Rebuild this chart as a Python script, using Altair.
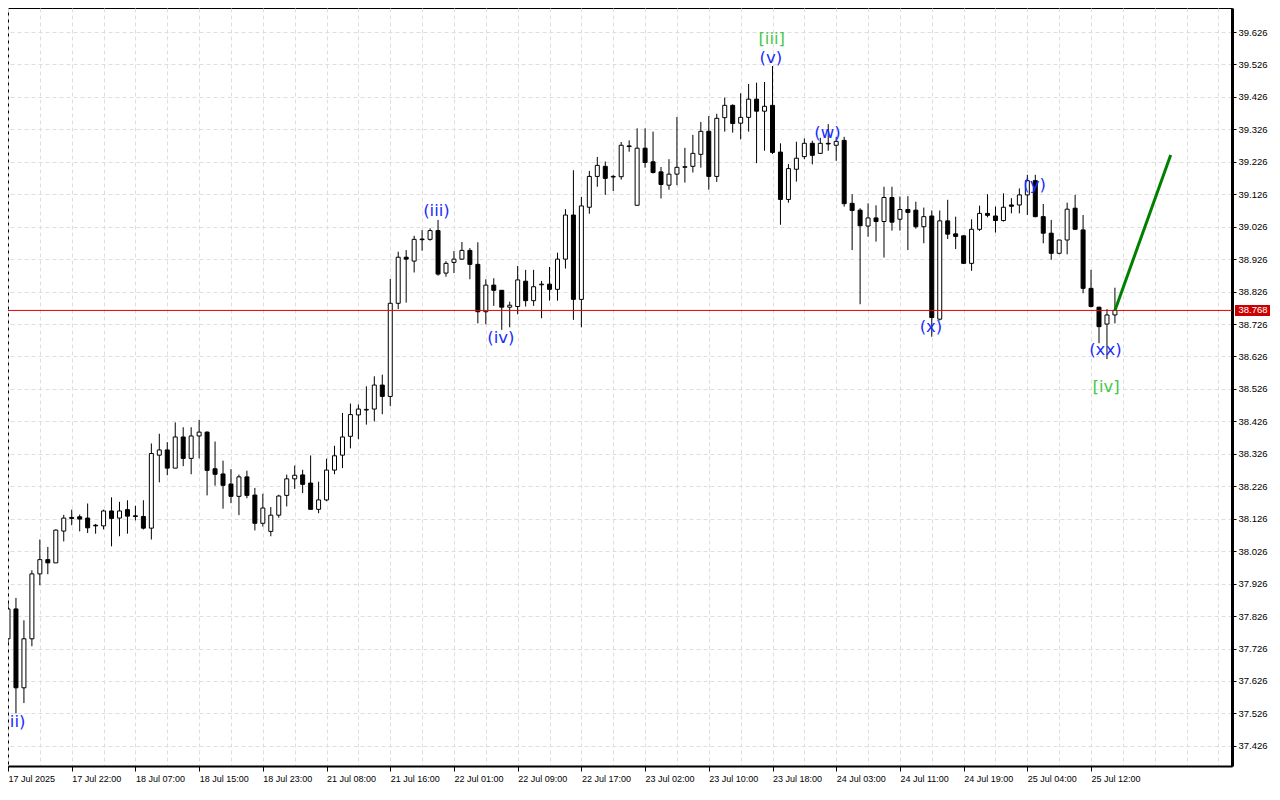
import altair as alt
import pandas as pd

# ---- hourly OHLC bars (bar index 0..139) ----
opens = [37.756, 37.848, 37.605, 37.756, 37.956, 38.000, 37.990, 38.088, 38.130, 38.132,
         38.128, 38.106, 38.104, 38.150, 38.128, 38.154, 38.135, 38.133, 38.097, 38.322,
         38.338, 38.282, 38.378, 38.312, 38.381, 38.393, 38.280, 38.264, 38.233, 38.195,
         38.255, 38.199, 38.112, 38.087, 38.137, 38.198, 38.249, 38.261, 38.236, 38.155,
         38.184, 38.276, 38.322, 38.380, 38.446, 38.461, 38.464, 38.538, 38.503, 38.790,
         38.932, 38.920, 38.988, 38.987, 39.014, 38.883, 38.916, 38.926, 38.953, 38.910,
         38.764, 38.846, 38.830, 38.778, 38.780, 38.858, 38.798, 38.847, 38.849, 38.833,
         38.926, 39.062, 38.802, 39.086, 39.181, 39.212, 39.179, 39.180, 39.275, 39.092,
         39.268, 39.226, 39.195, 39.154, 39.188, 39.209, 39.212, 39.249, 39.320, 39.181,
         39.362, 39.400, 39.345, 39.363, 39.419, 39.382, 39.400, 39.256, 39.110, 39.203,
         39.242, 39.283, 39.252, 39.283, 39.277, 39.292, 39.098, 39.077, 39.028, 39.053,
         39.042, 39.116, 39.049, 39.079, 39.077, 39.026, 39.059, 38.741, 39.044, 39.004,
         38.998, 38.913, 39.018, 39.067, 39.059, 39.045, 39.093, 39.093, 39.124, 39.168,
         39.057, 39.006, 38.944, 38.985, 39.083, 39.016, 38.836, 38.778, 38.726, 38.754]
highs = [37.870, 37.882, 37.813, 37.967, 38.062, 38.039, 38.093, 38.138, 38.154, 38.139,
         38.173, 38.110, 38.154, 38.192, 38.178, 38.183, 38.166, 38.183, 38.358, 38.388,
         38.362, 38.423, 38.408, 38.408, 38.431, 38.395, 38.364, 38.305, 38.279, 38.262,
         38.274, 38.221, 38.203, 38.162, 38.200, 38.262, 38.290, 38.277, 38.321, 38.240,
         38.311, 38.351, 38.452, 38.481, 38.478, 38.534, 38.565, 38.570, 38.865, 38.949,
         38.954, 38.998, 39.016, 39.021, 39.047, 38.920, 38.951, 38.979, 38.960, 38.978,
         38.864, 38.867, 38.831, 38.795, 38.905, 38.893, 38.893, 38.859, 38.902, 38.946,
         39.080, 39.200, 39.118, 39.198, 39.241, 39.227, 39.186, 39.287, 39.292, 39.329,
         39.329, 39.319, 39.210, 39.234, 39.364, 39.269, 39.309, 39.349, 39.367, 39.374,
         39.424, 39.403, 39.437, 39.466, 39.470, 39.472, 39.521, 39.283, 39.219, 39.288,
         39.298, 39.291, 39.300, 39.342, 39.303, 39.303, 39.126, 39.083, 39.098, 39.092,
         39.149, 39.149, 39.119, 39.120, 39.103, 39.085, 39.076, 39.076, 39.109, 39.057,
         38.999, 39.049, 39.091, 39.126, 39.088, 39.129, 39.114, 39.144, 39.186, 39.186,
         39.096, 39.047, 38.985, 39.100, 39.124, 39.062, 38.893, 38.779, 38.772, 38.838]
lows = [37.740, 37.526, 37.558, 37.733, 37.921, 37.955, 37.990, 38.056, 38.106, 38.087,
        38.082, 38.080, 38.093, 38.041, 38.072, 38.080, 38.121, 38.093, 38.062, 38.238,
        38.260, 38.282, 38.288, 38.263, 38.312, 38.198, 38.228, 38.157, 38.174, 38.137,
        38.189, 38.090, 38.102, 38.072, 38.129, 38.164, 38.218, 38.205, 38.155, 38.143,
        38.180, 38.263, 38.282, 38.343, 38.371, 38.416, 38.426, 38.448, 38.473, 38.772,
        38.792, 38.885, 38.952, 38.983, 38.875, 38.872, 38.883, 38.924, 38.864, 38.728,
        38.725, 38.782, 38.708, 38.716, 38.756, 38.780, 38.782, 38.744, 38.798, 38.798,
        38.897, 38.739, 38.716, 39.066, 39.149, 39.124, 39.136, 39.171, 39.257, 39.092,
        39.208, 39.190, 39.113, 39.140, 39.154, 39.162, 39.193, 39.208, 39.140, 39.164,
        39.319, 39.316, 39.295, 39.319, 39.222, 39.260, 39.250, 39.032, 39.100, 39.165,
        39.234, 39.218, 39.250, 39.260, 39.229, 39.088, 38.954, 38.787, 38.995, 38.980,
        38.931, 39.014, 39.014, 38.954, 39.020, 38.975, 38.687, 38.737, 38.988, 38.957,
        38.911, 38.890, 39.013, 39.055, 39.008, 39.042, 39.067, 39.067, 39.062, 39.055,
        38.975, 38.924, 38.941, 38.941, 39.018, 38.821, 38.777, 38.667, 38.618, 38.728]
closes = [37.848, 37.605, 37.756, 37.956, 38.000, 37.990, 38.091, 38.128, 38.127, 38.125,
          38.098, 38.104, 38.150, 38.127, 38.150, 38.134, 38.133, 38.097, 38.327, 38.338,
          38.282, 38.378, 38.312, 38.381, 38.393, 38.275, 38.263, 38.229, 38.195, 38.255,
          38.198, 38.112, 38.159, 38.137, 38.196, 38.249, 38.260, 38.232, 38.155, 38.184,
          38.276, 38.320, 38.378, 38.447, 38.464, 38.463, 38.538, 38.503, 38.790, 38.932,
          38.926, 38.987, 38.986, 39.014, 38.880, 38.913, 38.926, 38.953, 38.910, 38.764,
          38.846, 38.830, 38.778, 38.784, 38.862, 38.798, 38.841, 38.849, 38.833, 38.926,
          39.062, 38.802, 39.090, 39.181, 39.215, 39.175, 39.181, 39.277, 39.273, 39.268,
          39.224, 39.193, 39.156, 39.188, 39.209, 39.211, 39.252, 39.320, 39.181, 39.360,
          39.400, 39.344, 39.363, 39.419, 39.382, 39.397, 39.255, 39.110, 39.205, 39.237,
          39.283, 39.246, 39.283, 39.281, 39.289, 39.097, 39.076, 39.029, 39.053, 39.042,
          39.116, 39.040, 39.079, 39.070, 39.026, 39.057, 38.746, 39.044, 39.003, 38.996,
          38.913, 39.018, 39.067, 39.061, 39.045, 39.086, 39.089, 39.124, 39.168, 39.057,
          39.006, 38.944, 38.985, 39.080, 39.018, 38.836, 38.780, 38.718, 38.754, 38.768]

# ---- axis labels ----
time_labels = ["17 Jul 2025", "17 Jul 22:00", "18 Jul 07:00", "18 Jul 15:00", "18 Jul 23:00",
               "21 Jul 08:00", "21 Jul 16:00", "22 Jul 01:00", "22 Jul 09:00", "22 Jul 17:00",
               "23 Jul 02:00", "23 Jul 10:00", "23 Jul 18:00", "24 Jul 03:00", "24 Jul 11:00",
               "24 Jul 19:00", "25 Jul 04:00", "25 Jul 12:00"]
bars_per_label = 8
bars_per_grid = 4
price_ticks = [37.426, 37.526, 37.626, 37.726, 37.826, 37.926, 38.026, 38.126, 38.226, 38.326,
               38.426, 38.526, 38.626, 38.726, 38.826, 38.926, 39.026, 39.126, 39.226, 39.326,
               39.426, 39.526, 39.626]

# ---- wave annotations ----
wave_text = ["(ii)", "(iii)", "(iv)", "(v)", "[iii]", "(w)", "(x)", "(y)", "(xx)", "[iv]"]
wave_bar = [0.8, 53.8, 61.9, 95.8, 95.9, 102.9, 115.9, 128.9, 137.8, 137.9]
wave_price = [37.500, 39.074, 38.683, 39.546, 39.604, 39.315, 38.717, 39.154, 38.646, 38.532]
wave_color = ["#1a2cff", "#1a2cff", "#1a2cff", "#1a2cff", "#46c846", "#1a2cff",
              "#1a2cff", "#1a2cff", "#1a2cff", "#46c846"]

current_price = [38.768]
forecast_bar = [139, 146]
forecast_price = [38.768, 39.247]

# ---- frames ----
candles = pd.DataFrame({"k": list(range(len(opens))), "open": opens, "high": highs,
                        "low": lows, "close": closes})
candles["dir"] = ["up" if c >= o else "down" for o, c in zip(opens, closes)]
waves = pd.DataFrame({"k": wave_bar, "p": wave_price, "t": wave_text, "c": wave_color})
cur = pd.DataFrame({"p": current_price, "t": [f"{v:.3f}" for v in current_price]})
fc = pd.DataFrame({"k": forecast_bar, "p": forecast_price})

W, H = 1224, 758
last_label_bar = bars_per_label * (len(time_labels) - 1)
xs = alt.Scale(domain=[0, 153.7], nice=False, zero=False, padding=0)
ys = alt.Scale(domain=[37.364, 39.700], nice=False, zero=False, padding=0)

arr = "[" + ",".join("'%s'" % s for s in time_labels) + "]"
x_axis = alt.Axis(
    values=list(range(0, 153, bars_per_grid)),
    labelExpr=(f"datum.value % {bars_per_label} === 0 && datum.value <= {last_label_bar} "
               f"? {arr}[datum.value / {bars_per_label}] : ''"),
    labelAlign="left", labelBaseline="top", labelPadding=3,
    labelFont="Liberation Sans", labelFontSize=9, labelColor="black",
    labelOverlap=False, labelBound=False, labelFlush=False,
    tickColor="black", tickSize=5,
    tickOpacity={"condition": {"test": f"datum.value % {bars_per_label} === 0 && datum.value <= {last_label_bar}",
                               "value": 1}, "value": 0},
    grid=True, gridColor="#dedede", gridDash=[4, 3], gridWidth=1,
    domainColor="black", domainWidth=2, title=None)
y_axis = alt.Axis(
    orient="right", values=price_ticks, format=".3f",
    labelFont="Liberation Sans", labelFontSize=9.5, labelColor="black", labelPadding=2,
    labelOverlap=False, labelBound=False, labelFlush=False,
    tickColor="black", tickSize=4,
    grid=True, gridColor="#dedede", gridDash=[4, 3], gridWidth=1,
    domainColor="black", domainWidth=3, title=None)


def X(field):
    return alt.X(field, scale=xs, axis=x_axis)


def Y(field):
    return alt.Y(field, scale=ys, axis=y_axis)


wicks = alt.Chart(candles).mark_rule(color="black", strokeWidth=1, clip=True).encode(
    x=X("k:Q"), y=Y("low:Q"), y2="high:Q")

bodies = alt.Chart(candles).mark_bar(size=4, stroke="black", strokeWidth=1, clip=True,
                                     orient="vertical").encode(
    x=X("k:Q"), y=Y("open:Q"), y2="close:Q",
    fill=alt.Color("dir:N", scale=alt.Scale(domain=["up", "down"], range=["white", "black"]),
                   legend=None))

price_line = alt.Chart(cur).mark_rule(color="#e00000", strokeWidth=1, clip=True).encode(
    y=Y("p:Q"))

forecast = alt.Chart(fc).mark_line(color="#008000", strokeWidth=3, clip=True).encode(
    x=X("k:Q"), y=Y("p:Q"))

labels = alt.Chart(waves).mark_text(font="DejaVu Sans", fontSize=16.5, baseline="middle",
                                    align="center", clip=True).encode(
    x=X("k:Q"), y=Y("p:Q"), text="t:N", color=alt.Color("c:N", scale=None))

price_box = alt.Chart(cur).mark_tick(color="#cc0000", thickness=11, size=36, opacity=1,
                                     orient="horizontal", clip=False).encode(
    x=alt.value(W + 21), y=Y("p:Q"))

price_txt = alt.Chart(cur).mark_text(color="white", font="Liberation Sans", fontSize=9.5,
                                     align="center", baseline="middle", clip=False).encode(
    x=alt.value(W + 21), y=Y("p:Q"), text="t:N")

chart = alt.layer(wicks, bodies, price_line, forecast, labels, price_box, price_txt).properties(
    width=W, height=H,
    autosize=alt.AutoSizeParams(type="none"),
    padding={"left": 0, "top": 0, "right": 38, "bottom": 20},
    background="white",
).configure_view(stroke="black", strokeWidth=1)

chart.save("out.html", embed_options={"renderer": "svg", "actions": False})
